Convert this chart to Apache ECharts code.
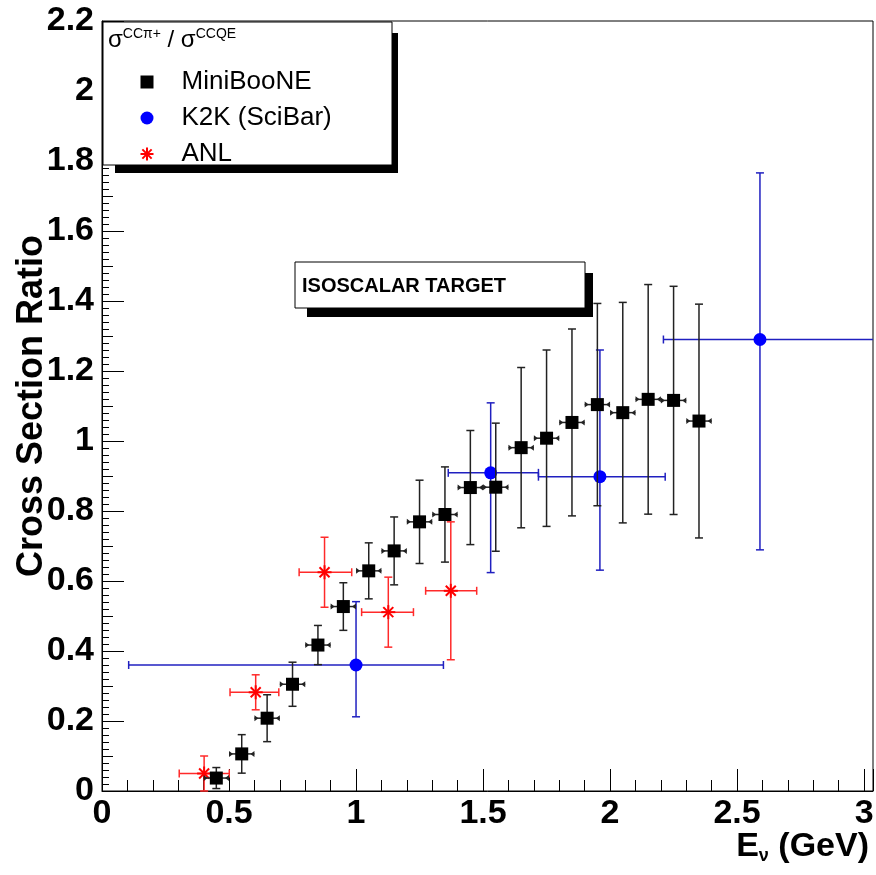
<!DOCTYPE html>
<html>
<head>
<meta charset="utf-8">
<script src="https://cdn.jsdelivr.net/npm/echarts@6/dist/echarts.min.js"></script>
<style>
  html, body { margin: 0; padding: 0; background: #fff; }
  #chart { width: 876px; height: 875px; }
</style>
</head>
<body>
<div id="chart"></div>
<script>
// MiniBooNE CCpi+/CCQE ratio, 0.1 GeV wide energy bins
const miniE = [0.45, 0.55, 0.65, 0.75, 0.85, 0.95, 1.05, 1.15, 1.25, 1.35,
               1.45, 1.55, 1.65, 1.75, 1.85, 1.95, 2.05, 2.15, 2.25, 2.35];
const miniRatio = [0.037, 0.106, 0.208, 0.305, 0.417, 0.527, 0.629, 0.686, 0.769, 0.790,
                   0.867, 0.868, 0.981, 1.008, 1.053, 1.104, 1.081, 1.119, 1.116, 1.057];
const miniErr = [0.030, 0.055, 0.067, 0.063, 0.056, 0.068, 0.080, 0.097, 0.119, 0.136,
                 0.163, 0.183, 0.229, 0.252, 0.267, 0.289, 0.315, 0.328, 0.326, 0.334];
const miniHalfBin = 0.05;

// K2K (SciBar): asymmetric energy ranges and ratio uncertainties
const k2kE = [1.00, 1.53, 1.96, 2.59];
const k2kRatio = [0.360, 0.909, 0.898, 1.290];
const k2kELow = [0.105, 1.363, 1.718, 2.210];
const k2kEHigh = [1.344, 1.718, 2.217, 3.100];
const k2kRatioLow = [0.212, 0.624, 0.631, 0.689];
const k2kRatioHigh = [0.541, 1.109, 1.260, 1.766];

// ANL
const anlE = [0.402, 0.605, 0.876, 1.127, 1.373];
const anlRatio = [0.050, 0.282, 0.625, 0.511, 0.572];
const anlELow = [0.304, 0.504, 0.776, 1.022, 1.274];
const anlEHigh = [0.501, 0.696, 0.983, 1.226, 1.475];
const anlErr = [0.050, 0.050, 0.100, 0.100, 0.197];

// Axis ranges and tick steps
const xRange = [0, 3.035];
const yRange = [0, 2.2];
const xStep = 0.5;
const yStep = 0.2;

const FONT = '"Liberation Sans", Arial, Helvetica, sans-serif';

const miniData = miniE.map((e, i) => [e, miniRatio[i], e - miniHalfBin, e + miniHalfBin,
  miniRatio[i] - miniErr[i], miniRatio[i] + miniErr[i]]);
const k2kData = k2kE.map((e, i) => [e, k2kRatio[i], k2kELow[i], k2kEHigh[i],
  k2kRatioLow[i], k2kRatioHigh[i]]);
const anlData = anlE.map((e, i) => [e, anlRatio[i], anlELow[i], anlEHigh[i],
  anlRatio[i] - anlErr[i], anlRatio[i] + anlErr[i]]);

// Draws one point with its error bars; bars are clipped to the frame.
function makeRenderer(opt) {
  return function (params, api) {
    const cs = params.coordSys;
    const x = api.value(0), y = api.value(1);
    const c = api.coord([x, y]);
    const pl = api.coord([api.value(2), y]);
    const ph = api.coord([api.value(3), y]);
    const pb = api.coord([x, api.value(4)]);
    const pt = api.coord([x, api.value(5)]);
    const xMin = cs.x, xMax = cs.x + cs.width, yMin = cs.y, yMax = cs.y + cs.height;
    const left = Math.max(xMin, pl[0]), right = Math.min(xMax, ph[0]);
    const top = Math.max(yMin, pt[1]), bottom = Math.min(yMax, pb[1]);
    const ls = { stroke: opt.color, lineWidth: opt.lw };
    const cap = 4;
    const kids = [
      { type: 'line', shape: { x1: left, y1: c[1], x2: right, y2: c[1] }, style: ls },
      { type: 'line', shape: { x1: c[0], y1: top, x2: c[0], y2: bottom }, style: ls }
    ];
    if (pt[1] >= yMin) kids.push({ type: 'line', shape: { x1: c[0] - cap, y1: pt[1], x2: c[0] + cap, y2: pt[1] }, style: ls });
    if (pb[1] <= yMax) kids.push({ type: 'line', shape: { x1: c[0] - cap, y1: pb[1], x2: c[0] + cap, y2: pb[1] }, style: ls });
    if (opt.xCaps) {
      if (pl[0] >= xMin) kids.push({ type: 'line', shape: { x1: pl[0], y1: c[1] - cap, x2: pl[0], y2: c[1] + cap }, style: ls });
      if (ph[0] <= xMax) kids.push({ type: 'line', shape: { x1: ph[0], y1: c[1] - cap, x2: ph[0], y2: c[1] + cap }, style: ls });
    }
    if (opt.arrows) {
      kids.push({ type: 'polygon', shape: { points: [[pl[0], c[1] - 3], [pl[0], c[1] + 3], [pl[0] + 4, c[1]]] }, style: { fill: opt.color } });
      kids.push({ type: 'polygon', shape: { points: [[ph[0], c[1] - 3], [ph[0], c[1] + 3], [ph[0] - 4, c[1]]] }, style: { fill: opt.color } });
    }
    if (opt.marker === 'square') {
      kids.push({ type: 'rect', shape: { x: c[0] - 6.5, y: c[1] - 6.5, width: 13, height: 13 }, style: { fill: opt.markerColor } });
    } else if (opt.marker === 'circle') {
      kids.push({ type: 'circle', shape: { cx: c[0], cy: c[1], r: 6.5 }, style: { fill: opt.markerColor } });
    } else {
      const s = 7, d = 5;
      const ms = { stroke: opt.markerColor, lineWidth: 2 };
      kids.push({ type: 'line', shape: { x1: c[0] - s, y1: c[1], x2: c[0] + s, y2: c[1] }, style: ms });
      kids.push({ type: 'line', shape: { x1: c[0], y1: c[1] - s, x2: c[0], y2: c[1] + s }, style: ms });
      kids.push({ type: 'line', shape: { x1: c[0] - d, y1: c[1] - d, x2: c[0] + d, y2: c[1] + d }, style: ms });
      kids.push({ type: 'line', shape: { x1: c[0] - d, y1: c[1] + d, x2: c[0] + d, y2: c[1] - d }, style: ms });
    }
    return { type: 'group', children: kids };
  };
}

const chart = echarts.init(document.getElementById('chart'));

const tickLabel = { fontFamily: FONT, fontSize: 34, fontWeight: 'bold', color: '#000' };

chart.setOption({
  animation: false,
  backgroundColor: '#fff',
  grid: {
    left: 102, right: 3, top: 21, bottom: 84,
    containLabel: false, outerBoundsMode: 'none',
    show: true, borderColor: '#000', borderWidth: 1, backgroundColor: 'transparent'
  },
  xAxis: [{
    type: 'value', min: xRange[0], max: xRange[1], interval: xStep,
    axisLine: { show: true, onZero: false, lineStyle: { color: '#000', width: 1 } },
    axisTick: { show: true, inside: true, length: 22, lineStyle: { color: '#000', width: 1 } },
    minorTick: { show: true, splitNumber: 5, length: 11, lineStyle: { color: '#000', width: 1 } },
    splitLine: { show: false },
    axisLabel: Object.assign({ margin: 6, showMaxLabel: true, hideOverlap: false,
      formatter: v => (Math.abs(v / xStep - Math.round(v / xStep)) < 1e-6 ? String(+v.toFixed(2)) : '') }, tickLabel)
  }],
  yAxis: [{
    type: 'value', min: yRange[0], max: yRange[1], interval: yStep,
    axisLine: { show: true, onZero: false, lineStyle: { color: '#000', width: 1 } },
    axisTick: { show: true, inside: true, length: 22, lineStyle: { color: '#000', width: 1 } },
    minorTick: { show: true, splitNumber: 10, length: 7, lineStyle: { color: '#000', width: 1 } },
    splitLine: { show: false },
    axisLabel: Object.assign({ margin: 8, hideOverlap: false }, tickLabel),
    name: 'Cross Section Ratio',
    nameLocation: 'middle', nameRotate: 90, nameGap: 52, nameMoveOverlap: false,
    nameTextStyle: { fontFamily: FONT, fontSize: 36, fontWeight: 'bold', color: '#000' }
  }, {
    // mid-step ticks at every 0.1
    type: 'value', min: yRange[0], max: yRange[1], interval: yStep / 2, position: 'left',
    axisLine: { show: false },
    axisTick: { show: true, inside: true, length: 11, lineStyle: { color: '#000', width: 1 } },
    axisLabel: { show: false }, splitLine: { show: false }
  }],
  legend: {
    orient: 'vertical', left: 133, top: 62, itemGap: 6,
    itemWidth: 13, itemHeight: 13, z: 20,
    textStyle: { fontFamily: FONT, fontSize: 26, color: '#000', lineHeight: 30, padding: [0, 0, 0, 23] },
    data: [
      { name: 'MiniBooNE', icon: 'rect', itemStyle: { color: '#000' } },
      { name: 'K2K (SciBar)', icon: 'circle', itemStyle: { color: '#0000ff' } },
      { name: 'ANL', icon: 'path://M0,7L14,7M7,0L7,14M2,2L12,12M2,12L12,2', itemStyle: { color: 'none', borderColor: '#ff0000', borderWidth: 2 } }
    ]
  },
  graphic: [
    // legend frame with drop shadow
    { type: 'rect', z: 10, shape: { x: 115, y: 33, width: 283, height: 140 }, style: { fill: '#000' } },
    { type: 'rect', z: 11, shape: { x: 103, y: 22, width: 289, height: 143 }, style: { fill: '#fff', stroke: '#000', lineWidth: 1 } },
    { type: 'text', z: 12, x: 108, y: 40,
      style: {
        text: '{g|σ}{p|CCπ+}{g| / σ}{p|CCQE}',
        verticalAlign: 'middle',
        rich: {
          g: { fontFamily: FONT, fontSize: 24, fill: '#000', lineHeight: 26 },
          p: { fontFamily: FONT, fontSize: 14, fill: '#000', verticalAlign: 'top', lineHeight: 26 }
        }
      } },
    // target annotation box
    { type: 'rect', z: 10, shape: { x: 307, y: 273, width: 286, height: 44 }, style: { fill: '#000' } },
    { type: 'rect', z: 11, shape: { x: 295, y: 262, width: 290, height: 46 }, style: { fill: '#fff', stroke: '#000', lineWidth: 1 } },
    { type: 'text', z: 12, x: 302, y: 286,
      style: { text: 'ISOSCALAR TARGET', fontFamily: FONT, fontSize: 20, fontWeight: 'bold', fill: '#000', verticalAlign: 'middle' } },
    // x axis title, right-aligned under the axis end
    { type: 'text', z: 12, x: 869, y: 847,
      style: {
        text: '{e|E}{s|ν}{e| (GeV)}',
        align: 'right', verticalAlign: 'middle',
        rich: {
          e: { fontFamily: FONT, fontSize: 34, fontWeight: 'bold', fill: '#000', lineHeight: 36 },
          s: { fontFamily: FONT, fontSize: 18, fontWeight: 'bold', fill: '#000', verticalAlign: 'bottom', lineHeight: 36 }
        }
      } }
  ],
  series: [
    {
      name: 'ANL', type: 'custom', itemStyle: { color: '#ff0000' },
      renderItem: makeRenderer({ color: '#ff2a2a', lw: 1.5, xCaps: true, marker: 'star', markerColor: '#ff0000' }),
      encode: { x: 0, y: 1 }, data: anlData, z: 3
    },
    {
      name: 'K2K (SciBar)', type: 'custom', itemStyle: { color: '#0000ff' },
      renderItem: makeRenderer({ color: '#2020c0', lw: 1.5, xCaps: true, marker: 'circle', markerColor: '#0000ff' }),
      encode: { x: 0, y: 1 }, data: k2kData, z: 4
    },
    {
      name: 'MiniBooNE', type: 'custom', itemStyle: { color: '#000' },
      renderItem: makeRenderer({ color: '#222', lw: 1.5, arrows: true, marker: 'square', markerColor: '#000' }),
      encode: { x: 0, y: 1 }, data: miniData, z: 5
    }
  ]
});
</script>
</body>
</html>
